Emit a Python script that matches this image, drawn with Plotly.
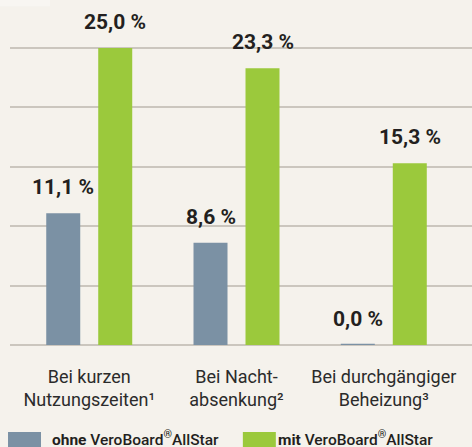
import plotly.graph_objects as go

categories = ["Bei kurzen<br>Nutzungszeiten¹", "Bei Nacht-<br>absenkung²", "Bei durchgängiger<br>Beheizung³"]
ohne = [11.1, 8.6, 0.0]
mit = [25.0, 23.3, 15.3]
series_names = ["ohne", "mit"]
y_ticks = [0, 5, 10, 15, 20, 25]

BG = "#f5f2ec"
BLUE = "#7b91a4"
GREEN = "#9bc93c"
TXT = "#231f20"
GRID = "#cbc6be"

fig = go.Figure()
fig.add_trace(go.Bar(x=categories, y=ohne, name=series_names[0],
                     marker=dict(color=BLUE, line=dict(color=BLUE, width=[2.5 if v == 0 else 0 for v in ohne]))))
fig.add_trace(go.Bar(x=categories, y=mit, name=series_names[1], marker=dict(color=GREEN, line=dict(width=0))))

def fmt(v):
    return f"{v:.1f}".replace(".", ",") + " %"

annotations = []
for vals, shift in ((ohne, -26), (mit, 26)):
    for c, v in zip(categories, vals):
        annotations.append(dict(x=c, y=v, xref="x", yref="y", text=fmt(v), showarrow=False,
                                xshift=shift, yshift=12, yanchor="bottom", xanchor="center",
                                font=dict(family="Roboto", size=21, color=TXT, weight=700)))

# legend drawn manually
legend_items = [("<b>ohne</b> VeroBoard<sup>®</sup>AllStar", BLUE, -0.0043, 0.0866),
                ("<b>mit</b> VeroBoard<sup>®</sup>AllStar", GREEN, 0.504, 0.5757)]
shapes = [dict(type="rect", xref="paper", yref="paper", x0=-0.03, x1=0.0866, y0=0.982, y1=1.01,
               fillcolor="#f8f6f2", line=dict(width=0), layer="below")]
for text, col, x0, tx in legend_items:
    shapes.append(dict(type="rect", xref="paper", yref="paper", x0=x0, x1=x0 + 0.0714,
                       y0=-0.30, y1=-0.252, fillcolor=col, line=dict(width=0), layer="above"))
    annotations.append(dict(x=tx, y=-0.272, xref="paper", yref="paper", text=text, showarrow=False,
                            xanchor="left", yanchor="middle",
                            font=dict(family="Roboto", size=15.5, color=TXT, weight=500)))

fig.update_layout(
    width=472, height=447,
    margin=dict(l=10, r=0, t=0, b=102),
    paper_bgcolor=BG, plot_bgcolor=BG,
    barmode="group", bargap=0.294, bargroupgap=0.346,
    showlegend=False,
    annotations=annotations, shapes=shapes,
    xaxis=dict(range=[-0.538, 2.599], showgrid=False, zeroline=False, showline=False,
               ticks="", ticklabelstandoff=19,
               tickfont=dict(family="Roboto", size=18, color="#2b2b2b")),
    yaxis=dict(range=[0, 29.04], tickvals=y_ticks, showticklabels=False, showgrid=True,
               gridcolor=GRID, gridwidth=1.5, zeroline=True, zerolinecolor=GRID, zerolinewidth=2,
               showline=False),
)

fig.write_html("out.html")
